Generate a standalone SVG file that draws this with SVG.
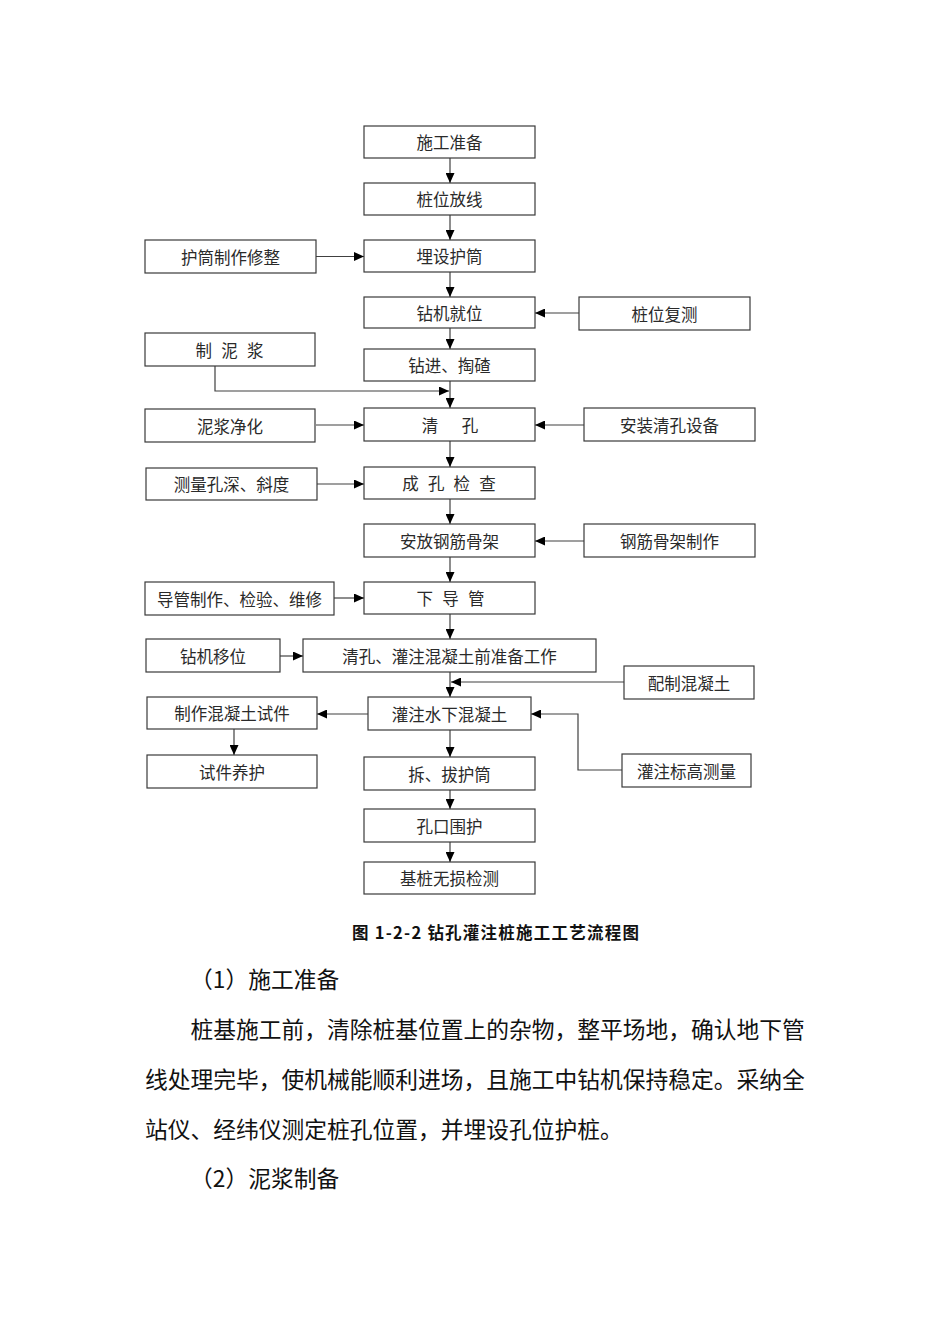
<svg xmlns="http://www.w3.org/2000/svg" width="950" height="1344" viewBox="0 0 950 1344">
<style>
  .box { fill: #ffffff; stroke: #3a3a3a; stroke-width: 1.2; }
  .lbl { font-family: "Noto Sans CJK SC", "Noto Sans CJK JP", sans-serif; font-size: 16.5px; fill: #2a2a2a; text-anchor: middle; dominant-baseline: central; }
  .sp { white-space: pre; word-spacing: 5.5px; }
  .sp2 { white-space: pre; word-spacing: 8px; }
  .conn { fill: none; stroke: #404040; stroke-width: 1.2; marker-end: url(#arr); }
  .cap { font-family: "Noto Sans CJK SC", sans-serif; font-size: 16.5px; font-weight: bold; fill: #111; dominant-baseline: central; }
  .body { font-family: "Noto Sans CJK SC", sans-serif; font-size: 22.75px; fill: #111; dominant-baseline: central; }
</style>
<defs>
  <marker id="arr" markerUnits="userSpaceOnUse" markerWidth="11" markerHeight="9" refX="10" refY="4.5" orient="auto">
    <path d="M0,0 L10,4.5 L0,9 Z" fill="#000"/>
  </marker>
</defs>
<rect width="950" height="1344" fill="#ffffff"/>

<g id="connectors">
  <line class="conn" x1="450" y1="158" x2="450" y2="183"/>
  <line class="conn" x1="450" y1="215" x2="450" y2="240"/>
  <line class="conn" x1="450" y1="272" x2="450" y2="297"/>
  <line class="conn" x1="450" y1="328" x2="450" y2="349"/>
  <line class="conn" x1="450" y1="381" x2="450" y2="408"/>
  <polyline class="conn" points="215,366 215,391 449,391"/>
  <line class="conn" x1="450" y1="441" x2="450" y2="467"/>
  <line class="conn" x1="450" y1="499" x2="450" y2="524"/>
  <line class="conn" x1="450" y1="557" x2="450" y2="582"/>
  <line class="conn" x1="450" y1="614" x2="450" y2="639"/>
  <line class="conn" x1="450" y1="672" x2="450" y2="697"/>
  <line class="conn" x1="624" y1="682" x2="451" y2="682"/>
  <line class="conn" x1="450" y1="730" x2="450" y2="757"/>
  <line class="conn" x1="450" y1="790" x2="450" y2="809"/>
  <line class="conn" x1="450" y1="842" x2="450" y2="862"/>
  <line class="conn" x1="316" y1="256.5" x2="364" y2="256.5"/>
  <line class="conn" x1="579" y1="313" x2="535" y2="313"/>
  <line class="conn" x1="316" y1="425" x2="364" y2="425"/>
  <line class="conn" x1="584" y1="425" x2="535" y2="425"/>
  <line class="conn" x1="317" y1="484" x2="364" y2="484"/>
  <line class="conn" x1="584" y1="541" x2="535" y2="541"/>
  <line class="conn" x1="334" y1="598" x2="364" y2="598"/>
  <line class="conn" x1="280" y1="656" x2="303" y2="656"/>
  <line class="conn" x1="368" y1="714" x2="317" y2="714"/>
  <line class="conn" x1="234" y1="729" x2="234" y2="755"/>
  <polyline class="conn" points="622,770 578,770 578,714 531,714"/>
</g>

<g id="n1"><rect class="box" x="364" y="126" width="171" height="32"/><text class="lbl" x="449.5" y="142">施工准备</text></g>
<g id="n2"><rect class="box" x="364" y="183" width="171" height="32"/><text class="lbl" x="449.5" y="199">桩位放线</text></g>
<g id="n3"><rect class="box" x="364" y="240" width="171" height="32"/><text class="lbl" x="449.5" y="256">埋设护筒</text></g>
<g id="n4"><rect class="box" x="145" y="240" width="171" height="33"/><text class="lbl" x="230.5" y="257">护筒制作修整</text></g>
<g id="n5"><rect class="box" x="364" y="297" width="171" height="31"/><text class="lbl" x="449.5" y="312.5">钻机就位</text></g>
<g id="n6"><rect class="box" x="579" y="297" width="171" height="33"/><text class="lbl" x="664.5" y="313.5">桩位复测</text></g>
<g id="n7"><rect class="box" x="145" y="333" width="170" height="33"/><text class="lbl sp" x="229.5" y="349.5">制 泥 浆</text></g>
<g id="n8"><rect class="box" x="364" y="349" width="171" height="32"/><text class="lbl" x="449.5" y="365">钻进、掏碴</text></g>
<g id="n9"><rect class="box" x="364" y="408" width="171" height="33"/><text class="lbl sp2" x="450" y="424.5">清  孔</text></g>
<g id="n10"><rect class="box" x="145" y="409" width="170" height="33"/><text class="lbl" x="230" y="425.5">泥浆净化</text></g>
<g id="n11"><rect class="box" x="584" y="408" width="171" height="33"/><text class="lbl" x="669.5" y="424.5">安装清孔设备</text></g>
<g id="n12"><rect class="box" x="146" y="468" width="171" height="32"/><text class="lbl" x="231.5" y="484">测量孔深、斜度</text></g>
<g id="n13"><rect class="box" x="364" y="467" width="171" height="32"/><text class="lbl sp" x="449" y="483">成 孔 检 查</text></g>
<g id="n14"><rect class="box" x="364" y="524" width="171" height="33"/><text class="lbl" x="449.5" y="540.5">安放钢筋骨架</text></g>
<g id="n15"><rect class="box" x="584" y="524" width="171" height="33"/><text class="lbl" x="669.5" y="540.5">钢筋骨架制作</text></g>
<g id="n16"><rect class="box" x="145" y="582" width="189" height="33"/><text class="lbl" x="239.5" y="598.5">导管制作、检验、维修</text></g>
<g id="n17"><rect class="box" x="364" y="582" width="171" height="32"/><text class="lbl sp" x="450.5" y="598">下 导 管</text></g>
<g id="n18"><rect class="box" x="146" y="639" width="134" height="33"/><text class="lbl" x="213" y="655.5">钻机移位</text></g>
<g id="n19"><rect class="box" x="303" y="639" width="293" height="33"/><text class="lbl" x="449.5" y="655.5">清孔、灌注混凝土前准备工作</text></g>
<g id="n20"><rect class="box" x="624" y="666" width="130" height="33"/><text class="lbl" x="689" y="682.5">配制混凝土</text></g>
<g id="n21"><rect class="box" x="147" y="697" width="170" height="32"/><text class="lbl" x="232" y="713">制作混凝土试件</text></g>
<g id="n22"><rect class="box" x="368" y="697" width="163" height="33"/><text class="lbl" x="449.5" y="713.5">灌注水下混凝土</text></g>
<g id="n23"><rect class="box" x="147" y="755" width="170" height="33"/><text class="lbl" x="232" y="771.5">试件养护</text></g>
<g id="n24"><rect class="box" x="364" y="757" width="171" height="33"/><text class="lbl" x="449.5" y="773.5">拆、拔护筒</text></g>
<g id="n25"><rect class="box" x="622" y="754" width="129" height="33"/><text class="lbl" x="686.5" y="770.5">灌注标高测量</text></g>
<g id="n26"><rect class="box" x="364" y="809" width="171" height="33"/><text class="lbl" x="449.5" y="825.5">孔口围护</text></g>
<g id="n27"><rect class="box" x="364" y="862" width="171" height="32"/><text class="lbl" x="449.5" y="878">基桩无损检测</text></g>

<text class="cap" x="352" y="931.5" xml:space="preserve" textLength="287" lengthAdjust="spacing">图 1-2-2 钻孔灌注桩施工工艺流程图</text>

<text class="body" x="190" y="978">（1）施工准备</text>
<text class="body" x="190.5" y="1028">桩基施工前，清除桩基位置上的杂物，整平场地，确认地下管</text>
<text class="body" x="145" y="1078">线处理完毕，使机械能顺利进场，且施工中钻机保持稳定。采纳全</text>
<text class="body" x="145" y="1128">站仪、经纬仪测定桩孔位置，并埋设孔位护桩。</text>
<text class="body" x="190" y="1177">（2）泥浆制备</text>
</svg>
